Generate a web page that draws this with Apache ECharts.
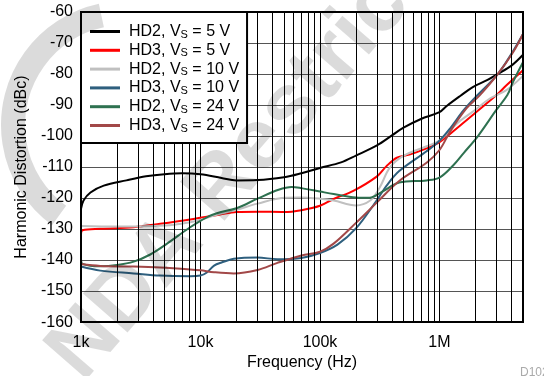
<!DOCTYPE html>
<html>
<head>
<meta charset="utf-8">
<script src="https://cdn.jsdelivr.net/npm/echarts@6/dist/echarts.min.js"></script>
<style>
html,body{margin:0;padding:0;background:#fff;}
#chart{width:544px;height:376px;}
</style>
</head>
<body>
<div id="chart"></div>
<script>
// ---- data ----
const seriesNames = ['HD2, VS = 5 V', 'HD3, VS = 5 V', 'HD2, VS = 10 V', 'HD3, VS = 10 V', 'HD2, VS = 24 V', 'HD3, VS = 24 V'];
const seriesColors = ['#000000', '#ff0000', '#c0c0c0', '#2e5f7e', '#2e7150', '#a24848'];

const hd2_5v_f = [1000, 1050, 1200, 1550, 2400, 3500, 5000, 7000, 10000, 15000, 20000, 30000, 50000, 70000, 100000, 150000, 200000, 300000, 400000, 500000, 700000, 1000000, 1150000, 1500000, 1900000, 2500000, 3000000, 4000000, 5000000];
const hd2_5v_v = [-123.5, -120.8, -118.2, -116, -114.3, -113.0, -112.3, -112, -112.3, -113.5, -114.3, -114.2, -113.3, -112, -110.3, -108.5, -106.3, -103, -99.8, -97.3, -94.5, -92.3, -90.3, -87, -84.2, -82, -80.2, -77.3, -73.8];

const hd3_5v_f = [1000, 1030, 1450, 2760, 4600, 8200, 14600, 20000, 30000, 50000, 70000, 100000, 130000, 190000, 300000, 360000, 440000, 560000, 780000, 1000000, 1500000, 2000000, 3000000, 3600000, 5000000];
const hd3_5v_v = [-132, -130.4, -129.9, -129.4, -128.3, -126.9, -125.3, -124.5, -124.4, -124.5, -123.9, -122.5, -120.3, -117.7, -113, -109.7, -107, -106, -104, -102, -96.5, -92.5, -86.8, -83.8, -78.8];

const hd2_10v_f = [1000, 2000, 4000, 6000, 8200, 10000, 14600, 20000, 30000, 50000, 68000, 100000, 130000, 200000, 263000, 316000, 384000, 495000, 780000, 1000000, 1200000, 1500000, 2000000, 2640000, 3630000, 5000000];
const hd2_10v_v = [-129, -129.2, -129, -128.6, -127.8, -127, -125.1, -123.8, -121.8, -119.9, -119.8, -120.2, -120.8, -122.4, -120.8, -116.6, -110.2, -106.5, -103.3, -101.5, -98.5, -95, -91.5, -87.9, -85.2, -80.6];

const hd3_10v_f = [1000, 1450, 2760, 4600, 8200, 10000, 11300, 13000, 15000, 19000, 30000, 44000, 70000, 100000, 140000, 200000, 298000, 361000, 460000, 780000, 1000000, 1230000, 1600000, 2000000, 3050000, 4000000, 5000000];
const hd3_10v_v = [-142.1, -143.4, -144.3, -145, -145.2, -145, -144, -141.8, -140.8, -139.6, -139.2, -139.7, -139.3, -137.7, -135, -129.8, -120.8, -116, -111.3, -104.9, -101.5, -97.5, -91.6, -87.5, -80.2, -73.5, -67.1];

const hd2_24v_f = [1000, 1030, 1450, 2000, 2760, 3800, 5250, 8200, 11300, 14600, 20000, 30000, 45000, 58000, 70000, 100000, 130000, 200000, 260000, 330000, 460000, 780000, 1000000, 1300000, 1600000, 2100000, 3000000, 3700000, 4130000, 5000000];
const hd2_24v_v = [-139.5, -141.2, -142, -141.6, -140.5, -138.2, -134.7, -129.4, -126.2, -124.6, -123.3, -120.2, -117.3, -116.4, -116.8, -117.9, -118.7, -119.8, -119.9, -118, -115, -114.3, -113.4, -109.5, -105.4, -100, -91.5, -86.8, -82.5, -76.2];

const hd3_24v_f = [1000, 1450, 2760, 4600, 8200, 10000, 13000, 19000, 30000, 44000, 70000, 100000, 130000, 200000, 300000, 460000, 780000, 1000000, 1230000, 1680000, 2180000, 3050000, 4130000, 5000000];
const hd3_24v_v = [-141.3, -141.9, -142.1, -142.4, -143, -143.3, -143.9, -144.3, -143.2, -140.9, -138.5, -137.3, -134.7, -128, -121.4, -114.5, -108.6, -104.5, -98.5, -91.1, -86.8, -80.2, -73, -67.1];

const xTickValues = [1000, 10000, 100000, 1000000];
const xTickLabels = ['1k', '10k', '100k', '1M'];
const xMinorGrid = [2000, 3000, 4000, 5000, 6000, 7000, 8000, 9000,
  20000, 30000, 40000, 50000, 60000, 70000, 80000, 90000,
  200000, 300000, 400000, 500000, 600000, 700000, 800000, 900000,
  2000000, 3000000, 4000000];

const seriesF = [hd2_5v_f, hd3_5v_f, hd2_10v_f, hd3_10v_f, hd2_24v_f, hd3_24v_f];
const seriesV = [hd2_5v_v, hd3_5v_v, hd2_10v_v, hd3_10v_v, hd2_24v_v, hd3_24v_v];

// ---- chart ----
const FONT = 'Liberation Sans, Arial, Helvetica, sans-serif';
const chart = echarts.init(document.getElementById('chart'), null, {renderer: 'canvas'});

const series = seriesNames.map((name, i) => ({
  name: name,
  type: 'line',
  data: seriesF[i].map((f, j) => [f, seriesV[i][j]]),
  smooth: 0.35,
  symbol: 'none',
  lineStyle: {color: seriesColors[i], width: 2},
  itemStyle: {color: seriesColors[i]},
  z: 3,
  silent: true
}));

series.unshift({
  name: 'grid-minor',
  type: 'line',
  data: [],
  z: 1,
  silent: true,
  markLine: {
    silent: true,
    symbol: ['none', 'none'],
    label: {show: false},
    lineStyle: {color: '#000', width: 1, type: 'solid'},
    emphasis: {disabled: true},
    animation: false,
    data: xMinorGrid.map(v => ({xAxis: v}))
  }
});

const option = {
  animation: false,
  backgroundColor: '#fff',
  grid: {left: 81, right: 21, top: 12, bottom: 50, show: true, borderColor: '#000', borderWidth: 2, backgroundColor: 'transparent', z: 4},
  xAxis: {
    type: 'log',
    logBase: 10,
    min: 1000,
    max: 5000000,
    name: 'Frequency (Hz)',
    nameLocation: 'middle',
    nameGap: 31,
    nameTextStyle: {fontSize: 16, fontFamily: FONT, color: '#000'},
    axisLine: {show: true, lineStyle: {color: '#000', width: 2}},
    axisTick: {show: false},
    axisLabel: {
      fontSize: 16, fontFamily: FONT, color: '#000', margin: 12,
      showMaxLabel: false,
      formatter: v => { const k = xTickValues.indexOf(Math.round(v)); return k >= 0 ? xTickLabels[k] : ''; }
    },
    splitLine: {show: true, lineStyle: {color: '#000', width: 1}}
  },
  yAxis: {
    type: 'value',
    min: -160,
    max: -60,
    interval: 10,
    name: 'Harmonic Distortion (dBc)',
    nameLocation: 'middle',
    nameGap: 51,
    nameTextStyle: {fontSize: 16, fontFamily: FONT, color: '#000'},
    axisLine: {show: true, lineStyle: {color: '#000', width: 2}},
    axisTick: {show: false},
    axisLabel: {fontSize: 16, fontFamily: FONT, color: '#000', margin: 8},
    splitLine: {show: true, lineStyle: {color: '#555', width: 1.2}}
  },
  legend: {
    data: seriesNames,
    orient: 'vertical',
    left: 81,
    top: 12,
    padding: [11, 8, 9, 9],
    itemGap: 1.8,
    itemWidth: 30,
    itemHeight: 3,
    icon: 'rect',
    backgroundColor: '#fff',
    borderColor: '#000',
    borderWidth: 2,
    borderRadius: 0,
    selectedMode: false,
    z: 10,
    formatter: n => { const p = n.split('VS'); return '{a|' + p[0] + 'V}{s|S}{a|' + p[1] + '}'; },
    textStyle: {
      padding: [0, 0, 0, 4],
      rich: {
        a: {fontSize: 16, fontFamily: FONT, color: '#000', lineHeight: 16},
        s: {fontSize: 11, fontFamily: FONT, color: '#000', padding: [6, 0, 0, 0], lineHeight: 10}
      }
    }
  },
  graphic: [
    {
      type: 'text',
      x: 65, y: 368,
      rotation: 49 * Math.PI / 180,
      z: 100,
      silent: true,
      style: {text: 'NDA Restricted', font: 'bold 86px ' + FONT, fill: 'rgba(0,0,0,0.14)', textAlign: 'left', textVerticalAlign: 'middle'}
    },
    {
      type: 'arc',
      shape: {cx: 125, cy: 125, r: 112, startAngle: 2.2, endAngle: 4.5},
      z: 100,
      silent: true,
      style: {stroke: 'rgba(0,0,0,0.14)', lineWidth: 24, fill: null}
    },
    {
      type: 'text',
      x: 520, y: 373,
      z: 100,
      silent: true,
      style: {text: 'D102', font: '12px ' + FONT, fill: '#aaa', textAlign: 'left', textVerticalAlign: 'middle'}
    }
  ],
  series: series
};
chart.setOption(option);
</script>
</body>
</html>
